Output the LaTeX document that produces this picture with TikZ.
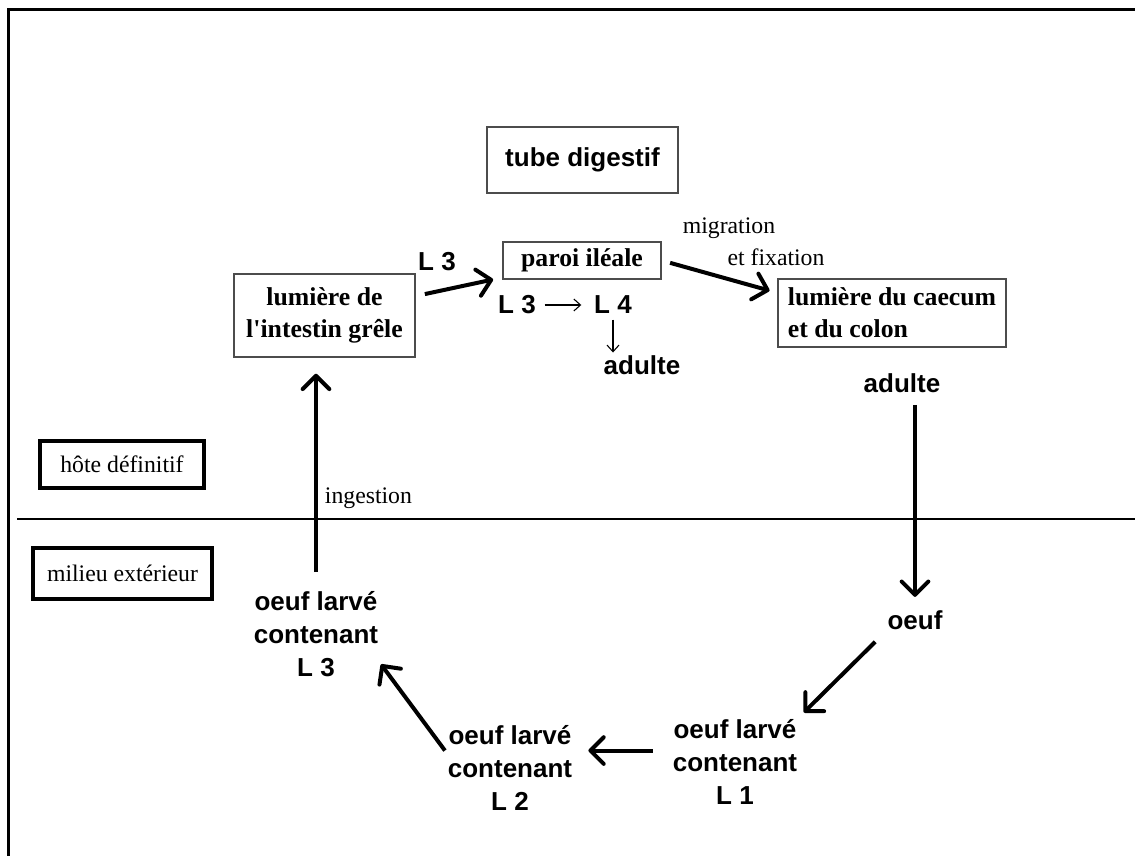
\documentclass[tikz,border=0pt]{standalone}
\usepackage{fontspec}
\setmainfont{Liberation Serif}
\setsansfont{Liberation Sans}
\usetikzlibrary{arrows.meta, calc}

\tikzset{
  sanslab/.style={font=\sffamily\bfseries\fontsize{19.5}{25}\selectfont, align=center, inner sep=2pt},
  seriflab/.style={font=\fontsize{17.8}{21}\selectfont, inner sep=2pt},
  boxlab/.style={font=\bfseries\fontsize{19.3}{24}\selectfont, draw=black!70, line width=1.1pt, align=center},
  zonebox/.style={font=\fontsize{17.8}{21}\selectfont, draw=black, line width=3pt},
  bigarrow/.style={line width=3pt, -{Straight Barb[length=10pt, width=20pt, round]}},
  thinarrow/.style={line width=0.8pt, -{Straight Barb[length=5pt, width=9pt]}},
}

\begin{document}
\begin{tikzpicture}[x=0.75pt, y=-0.75pt]

\useasboundingbox (0,0) rectangle (1135,856);

% Frame and host / outside divider
\draw[line width=2.25pt, line join=miter] (8,856) -- (8,10) -- (1135,10);
\draw[line width=1.1pt] (17,519) -- (1135,519);

% ============ Host: digestive tract ============
\node[sanslab, draw=black!70, line width=1.1pt, minimum width=143.25pt, minimum height=49.5pt]
  (tube) at (582.5,160) {tube digestif};

\node[boxlab, minimum width=118.5pt, minimum height=27.75pt] (paroi) at (582,260.5) {paroi iléale};
\node[boxlab, minimum width=135.75pt, minimum height=62.25pt] (intestin) at (324.5,315.5)
  {lumière de\\l\textquotesingle intestin grêle};
\node[boxlab, align=left, minimum width=171pt, minimum height=51pt] (caecum) at (892,313)
  {lumière du caecum\\et du colon};

\node[sanslab] (l3in) at (437,262) {L 3};
\node[sanslab] (l3p) at (517,305) {L 3};
\node[sanslab] (l4p) at (613,305) {L 4};
\node[sanslab] (adulteP) at (642,365) {adulte};
\node[sanslab] (adulteC) at (902,383) {adulte};

\node[seriflab] (migr) at (729,228) {migration};
\node[seriflab] (fix) at (776,257) {et fixation};
\node[seriflab, anchor=west] (ingest) at (322,498) {ingestion};

% Zone labels
\node[zonebox, minimum width=123pt, minimum height=35.25pt] (hote) at (122,464.5) {hôte définitif};
\node[zonebox, minimum width=134.25pt, minimum height=38.25pt] (milieu) at (122.5,573.5) {milieu extérieur};

% ============ Outside: eggs ============
\node[sanslab] (oeuf) at (915,620) {oeuf};
\node[sanslab] (larve1) at (735,762) {oeuf larvé\\contenant\\L 1};
\node[sanslab] (larve2) at (510,768) {oeuf larvé\\contenant\\L 2};
\node[sanslab] (larve3) at (316,634) {oeuf larvé\\contenant\\L 3};

% ============ Cycle arrows ============
\draw[bigarrow, shorten <=7pt, shorten >=7pt] (intestin) -- (paroi);
\draw[bigarrow, shorten <=6.5pt, shorten >=6pt] (paroi.east) -- (caecum.170);
\draw[bigarrow, shorten <=7pt, shorten >=8pt] (adulteC.south -| oeuf.north) -- (oeuf.north);
\draw[bigarrow, shorten <=10pt, shorten >=4pt] (oeuf.south west) -- (larve1.north east);
\draw[bigarrow, shorten <=13pt, shorten >=10pt] (larve1.170) -- (larve1.170 -| larve2.east);
\draw[bigarrow] (larve2.165) -- (larve3.-25);
\draw[bigarrow, shorten <=12pt, shorten >=12pt] (larve3.north) -- (larve3.north |- intestin.south);

% Development inside the wall
\draw[thinarrow, shorten <=4.5pt, shorten >=7.5pt] (l3p) -- (l4p);
\draw[thinarrow, shorten <=2pt] (l4p.south) -- (l4p.south |- adulteP.north);

\end{tikzpicture}
\end{document}
